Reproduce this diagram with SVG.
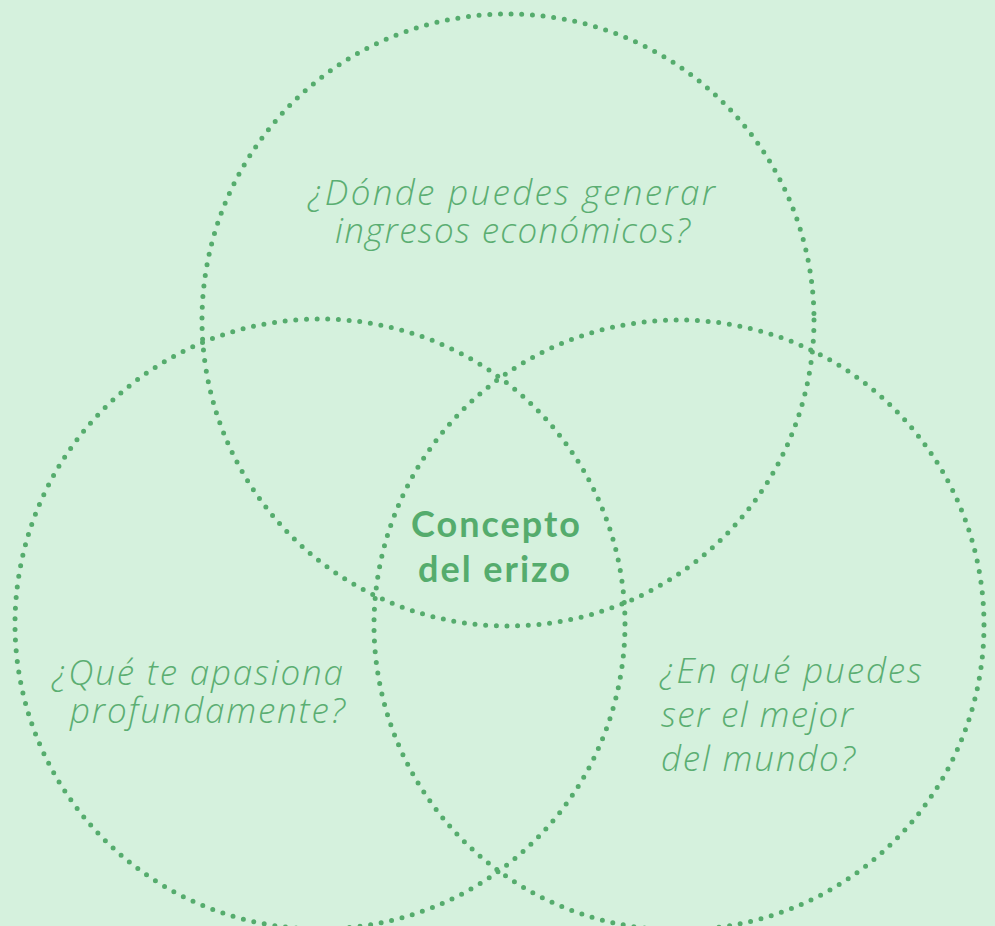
<svg xmlns="http://www.w3.org/2000/svg" width="995" height="926" viewBox="0 0 995 926">
<style>
.ring{fill:none;stroke:#55AC6D;stroke-width:5;stroke-linecap:round;stroke-dasharray:0 10.7}
.q{font-family:"Open Sans",Lato,sans-serif;font-style:italic;font-weight:300;font-size:35px;fill:#5BAE72}
.c{font-family:Lato,"Open Sans",sans-serif;font-weight:700;font-size:36px;fill:#55AC6D}
</style>
<rect width="995" height="926" fill="#D5F1DD"/>
<g id="connectors"></g>
<g id="top-circle">
<circle class="ring" cx="508" cy="320" r="306"/>
<text class="q"><tspan x="308" y="205" textLength="407">¿Dónde puedes generar</tspan><tspan x="335" y="243" textLength="355">ingresos económicos?</tspan></text>
</g>
<g id="left-circle">
<circle class="ring" cx="320" cy="624" r="305"/>
<text class="q"><tspan x="52" y="685" textLength="291">¿Qué te apasiona</tspan><tspan x="70" y="723" textLength="275">profundamente?</tspan></text>
</g>
<g id="right-circle">
<circle class="ring" cx="679" cy="625" r="305"/>
<text class="q"><tspan x="660" y="683" textLength="262">¿En qué puedes</tspan><tspan x="661" y="727" textLength="192">ser el mejor</tspan><tspan x="661" y="771" textLength="194">del mundo?</tspan></text>
</g>
<g id="center">
<text class="c"><tspan x="411" y="537" textLength="169">Concepto</tspan><tspan x="418" y="582" textLength="152">del erizo</tspan></text>
</g>
</svg>
